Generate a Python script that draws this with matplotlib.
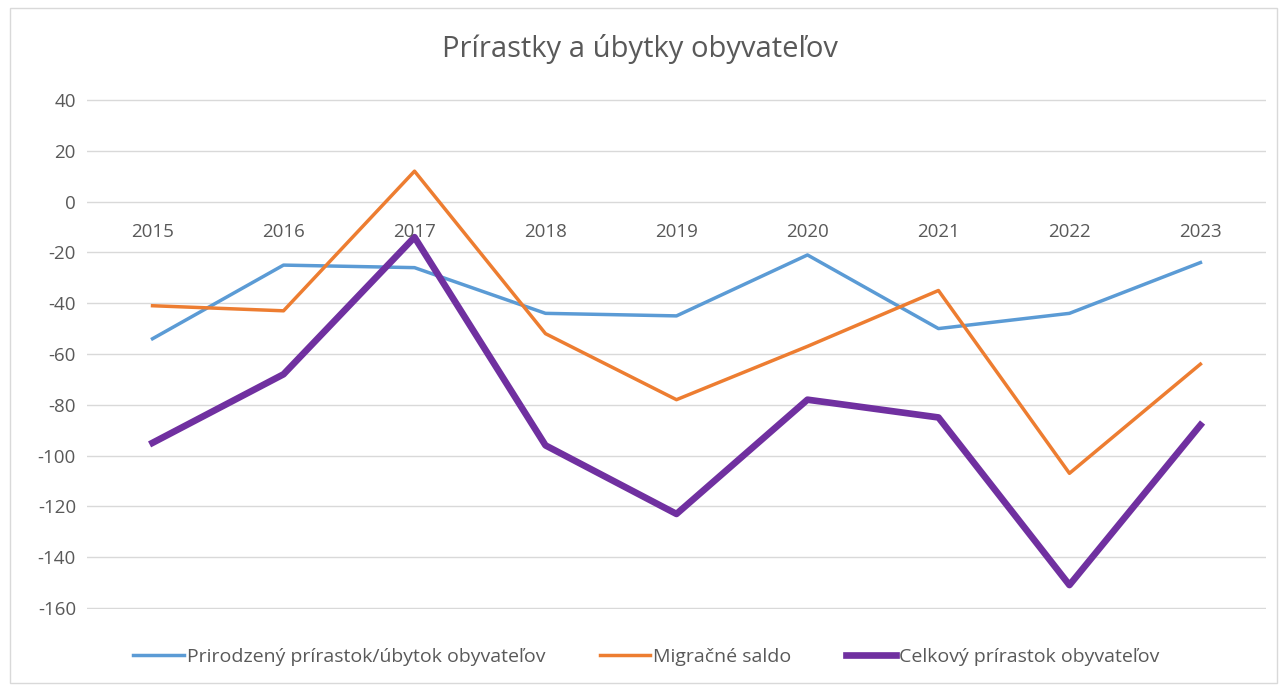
import matplotlib.pyplot as plt
from matplotlib.patches import Rectangle
import matplotlib.transforms as mtransforms

plt.rcParams['font.family'] = ['Open Sans', 'DejaVu Sans']
plt.rcParams['axes.unicode_minus'] = False

years = ["2015", "2016", "2017", "2018", "2019", "2020", "2021", "2022", "2023"]
prirodzeny = [-54, -25, -26, -44, -45, -21, -50, -44, -24]
migracne = [-41, -43, 12, -52, -78, -57, -35, -107, -64]
celkovy = [-95, -68, -14, -96, -123, -78, -85, -151, -88]

fig = plt.figure(figsize=(12.8, 6.86), dpi=100)
ax = fig.add_axes([0.068, 0.112, 0.921, 0.744])

x = range(len(years))
ax.plot(x, prirodzeny, color="#5b9bd5", lw=2.5, label="Prirodzený prírastok/úbytok obyvateľov")
ax.plot(x, migracne, color="#ed7d31", lw=2.5, label="Migračné saldo")
ax.plot(x, celkovy, color="#7030a0", lw=4.8, label="Celkový prírastok obyvateľov")

ax.set_xlim(-0.5, len(years) - 0.5)
ax.set_ylim(-160.5, 40.5)
ax.set_yticks(range(-160, 41, 20))
ax.yaxis.grid(True, color="#d9d9d9", lw=1)
ax.set_axisbelow(True)
ax.set_xticks([])
ax.tick_params(axis="y", length=0, pad=8, labelsize=13.5, labelcolor="#595959")
for s in ax.spines.values():
    s.set_visible(False)

# category labels sit just under the zero line, Excel style
trans = ax.transData + mtransforms.ScaledTranslation(0, -22 / 72, fig.dpi_scale_trans)
for i, yr in enumerate(years):
    ax.text(i, 0, yr, transform=trans, ha="center", va="center", fontsize=13.5, color="#595959")

fig.text(0.5, 0.928, "Prírastky a úbytky obyvateľov", ha="center", va="center",
         fontsize=21, color="#595959")

fig.legend(loc="center", bbox_to_anchor=(0.505, 0.042), ncol=3, frameon=False,
           fontsize=14, labelcolor="#595959", handlelength=2.6, handletextpad=0.15,
           columnspacing=2.8)

fig.patches.append(Rectangle((0.008, 0.005), 0.99, 0.983, transform=fig.transFigure,
                             fill=False, edgecolor="#d9d9d9", lw=1))

fig.savefig("out.png", dpi=100)
